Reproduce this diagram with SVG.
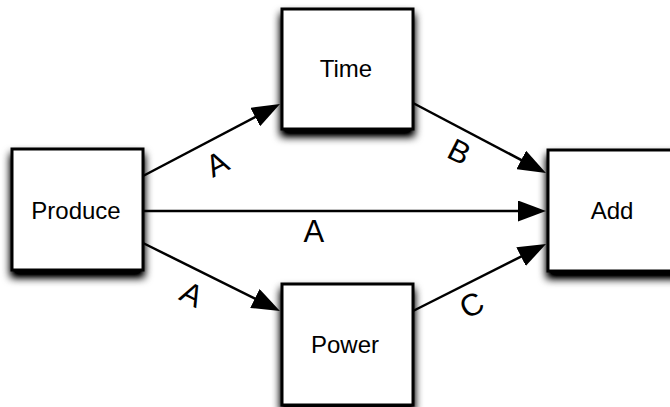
<svg xmlns="http://www.w3.org/2000/svg" width="670" height="407" viewBox="0 0 670 407">
  <style>
    .box { fill: #ffffff; stroke: #000000; stroke-width: 3; filter: url(#shadow); }
    .name { font-family: "Liberation Sans", Arial, sans-serif; font-size: 24px; fill: #000000; text-anchor: middle; }
    .edge { stroke: #000000; stroke-width: 2.5; fill: none; marker-end: url(#head); }
    .tag { font-family: "Liberation Sans", Arial, sans-serif; font-size: 31px; fill: #000000; text-anchor: middle; }
  </style>
  <defs>
    <filter id="shadow" x="-30%" y="-30%" width="160%" height="170%">
      <feGaussianBlur in="SourceAlpha" stdDeviation="4.5"/>
      <feOffset dx="0" dy="6" result="blur"/>
      <feComponentTransfer><feFuncA type="linear" slope="1.3"/></feComponentTransfer>
      <feMerge><feMergeNode/><feMergeNode in="SourceGraphic"/></feMerge>
    </filter>
    <marker id="head" markerUnits="userSpaceOnUse" markerWidth="28" markerHeight="21" refX="20" refY="10.5" orient="auto">
      <path d="M0,0 L28,10.5 L0,21 Z" fill="#000000"/>
    </marker>
  </defs>
  <rect width="670" height="407" fill="#ffffff"/>

  <g id="edges">
    <line class="edge" x1="143" y1="176" x2="272.9" y2="107.7"/>
    <line class="edge" x1="413" y1="103" x2="538.9" y2="169.3"/>
    <line class="edge" x1="143" y1="211" x2="538" y2="211"/>
    <line class="edge" x1="143" y1="243" x2="272.8" y2="307.4"/>
    <line class="edge" x1="413" y1="311" x2="538.9" y2="247.6"/>
    <text class="tag" transform="rotate(-27 217 163.5)" x="217" y="174.5">A</text>
    <text class="tag" transform="rotate(27 459.5 151.5)" x="459.5" y="162.5">B</text>
    <text class="tag" x="313.8" y="242">A</text>
    <text class="tag" transform="rotate(27 192 294)" x="192" y="305">A</text>
    <text class="tag" transform="rotate(-27 471.5 304.5)" x="471.5" y="315.5">C</text>
  </g>

  <g id="produce">
    <rect class="box" x="12" y="149" width="131" height="121"/>
    <text class="name" x="76" y="219">Produce</text>
  </g>
  <g id="time">
    <rect class="box" x="282" y="9" width="131" height="120"/>
    <text class="name" x="346" y="77">Time</text>
  </g>
  <g id="power">
    <rect class="box" x="282" y="284" width="131" height="121"/>
    <text class="name" x="345" y="353">Power</text>
  </g>
  <g id="add">
    <rect class="box" x="548" y="150" width="131" height="121"/>
    <text class="name" x="612" y="219">Add</text>
  </g>
</svg>
